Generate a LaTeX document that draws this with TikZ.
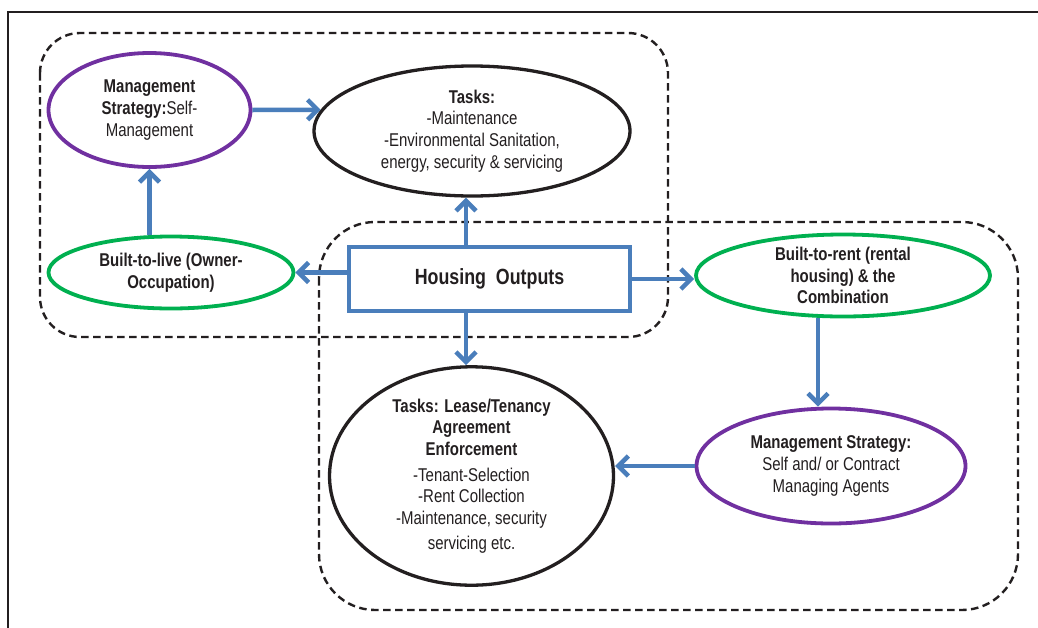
\documentclass[tikz,border=0pt]{standalone}
\usepackage{fontspec}
\setmainfont{Liberation Sans}[FakeStretch=0.81]
\usetikzlibrary{shapes.geometric,arrows.meta,calc}
\definecolor{ablue}{HTML}{4A7EBB}
\definecolor{agreen}{HTML}{00B050}
\definecolor{apurple}{HTML}{7030A0}
\definecolor{ainkc}{HTML}{231F20}
\begin{document}
\begin{tikzpicture}[x=1pt,y=-1pt,
  txt/.style={font=\fontsize{18.5}{21.7}\selectfont, text=ainkc, align=center},
  ell/.style={ellipse, draw, fill=white, inner sep=0pt, txt},
  greenell/.style={ell, draw=agreen, line width=3.8pt},
  purpleell/.style={ell, draw=apurple, line width=3.8pt},
  blackell/.style={ell, draw=ainkc, line width=3.3pt},
  hbox/.style={rectangle, draw=ablue, line width=4.5pt, fill=white, inner sep=0pt, text=ainkc,
     font=\fontsize{22}{24}\selectfont\bfseries},
  dashbox/.style={draw=ainkc, line width=2.4pt, dash pattern=on 7.5pt off 4.5pt},
  conn/.style={draw=ablue, line width=4.5pt, -{Straight Barb[length=10pt,width=20pt]}}
]
\useasboundingbox (0,0) rectangle (1038,627);
\clip (0,0) rectangle (1038,627);
\fill[white] (0,0) rectangle (1038,627);
% outer frame
\draw[ainkc, line width=2.6pt] (8,650) -- (8,12) -- (1060,12);
% dashed groups
\draw[dashbox, rounded corners=40pt] (40,33) rectangle (668,337);
\draw[dashbox, rounded corners=56pt] (319,222) rectangle (1018,610);
% nodes
\node[purpleell, minimum width=202pt, minimum height=114pt] (mgmtA) at (149.5,110)
  {\textbf{Management}\\\textbf{Strategy:}Self-\\Management};
\node[blackell, minimum width=316pt, minimum height=130pt] (tasksA) at (472,131)
  {\textbf{Tasks:}\\-Maintenance\\-Environmental Sanitation,\\energy, security \& servicing};
\node[greenell, minimum width=245pt, minimum height=72pt] (btl) at (171,272.5)
  {\textbf{Built-to-live (Owner-}\\\textbf{Occupation)}};
\node[hbox, minimum width=281pt, minimum height=64pt] (hout) at (489.5,279)
  {Housing\ \ Outputs};
\node[greenell, minimum width=294pt, minimum height=82pt] (btr) at (843,275.5)
  {\textbf{Built-to-rent (rental}\\\textbf{housing) \& the}\\\textbf{Combination}};
\node[purpleell, minimum width=269pt, minimum height=115pt] (mgmtB) at (831,466)
  {\textbf{Management Strategy:}\\Self and/ or Contract\\Managing Agents};
\node[blackell, minimum width=284pt, minimum height=207pt] (tasksB) at (471.5,476)
  {\textbf{Tasks: Lease/Tenancy}\\\textbf{Agreement}\\\textbf{Enforcement}\\[4pt]-Tenant-Selection\\-Rent Collection\\-Maintenance, security\\[3pt]servicing etc.};
\coordinate (xA) at (466,0);
\coordinate (xB) at (818,0);
% connectors
\draw[conn] (hout.north -| xA) -- (tasksA.south -| xA);
\draw[conn] (hout.south -| xA) -- (tasksB.north -| xA);
\draw[conn] (hout.west |- btl.east) -- (btl.east);
\draw[conn] (hout.east) -- (hout.east -| btr.west);
\draw[conn] (btl.north -| mgmtA.south) -- (mgmtA.south);
\draw[conn] (mgmtA.east) -- (tasksA.172);
\draw[conn] (btr.south -| xB) -- (mgmtB.north -| xB);
\draw[conn] (mgmtB.west) -- (tasksB.east |- mgmtB.west);
\end{tikzpicture}
\end{document}
